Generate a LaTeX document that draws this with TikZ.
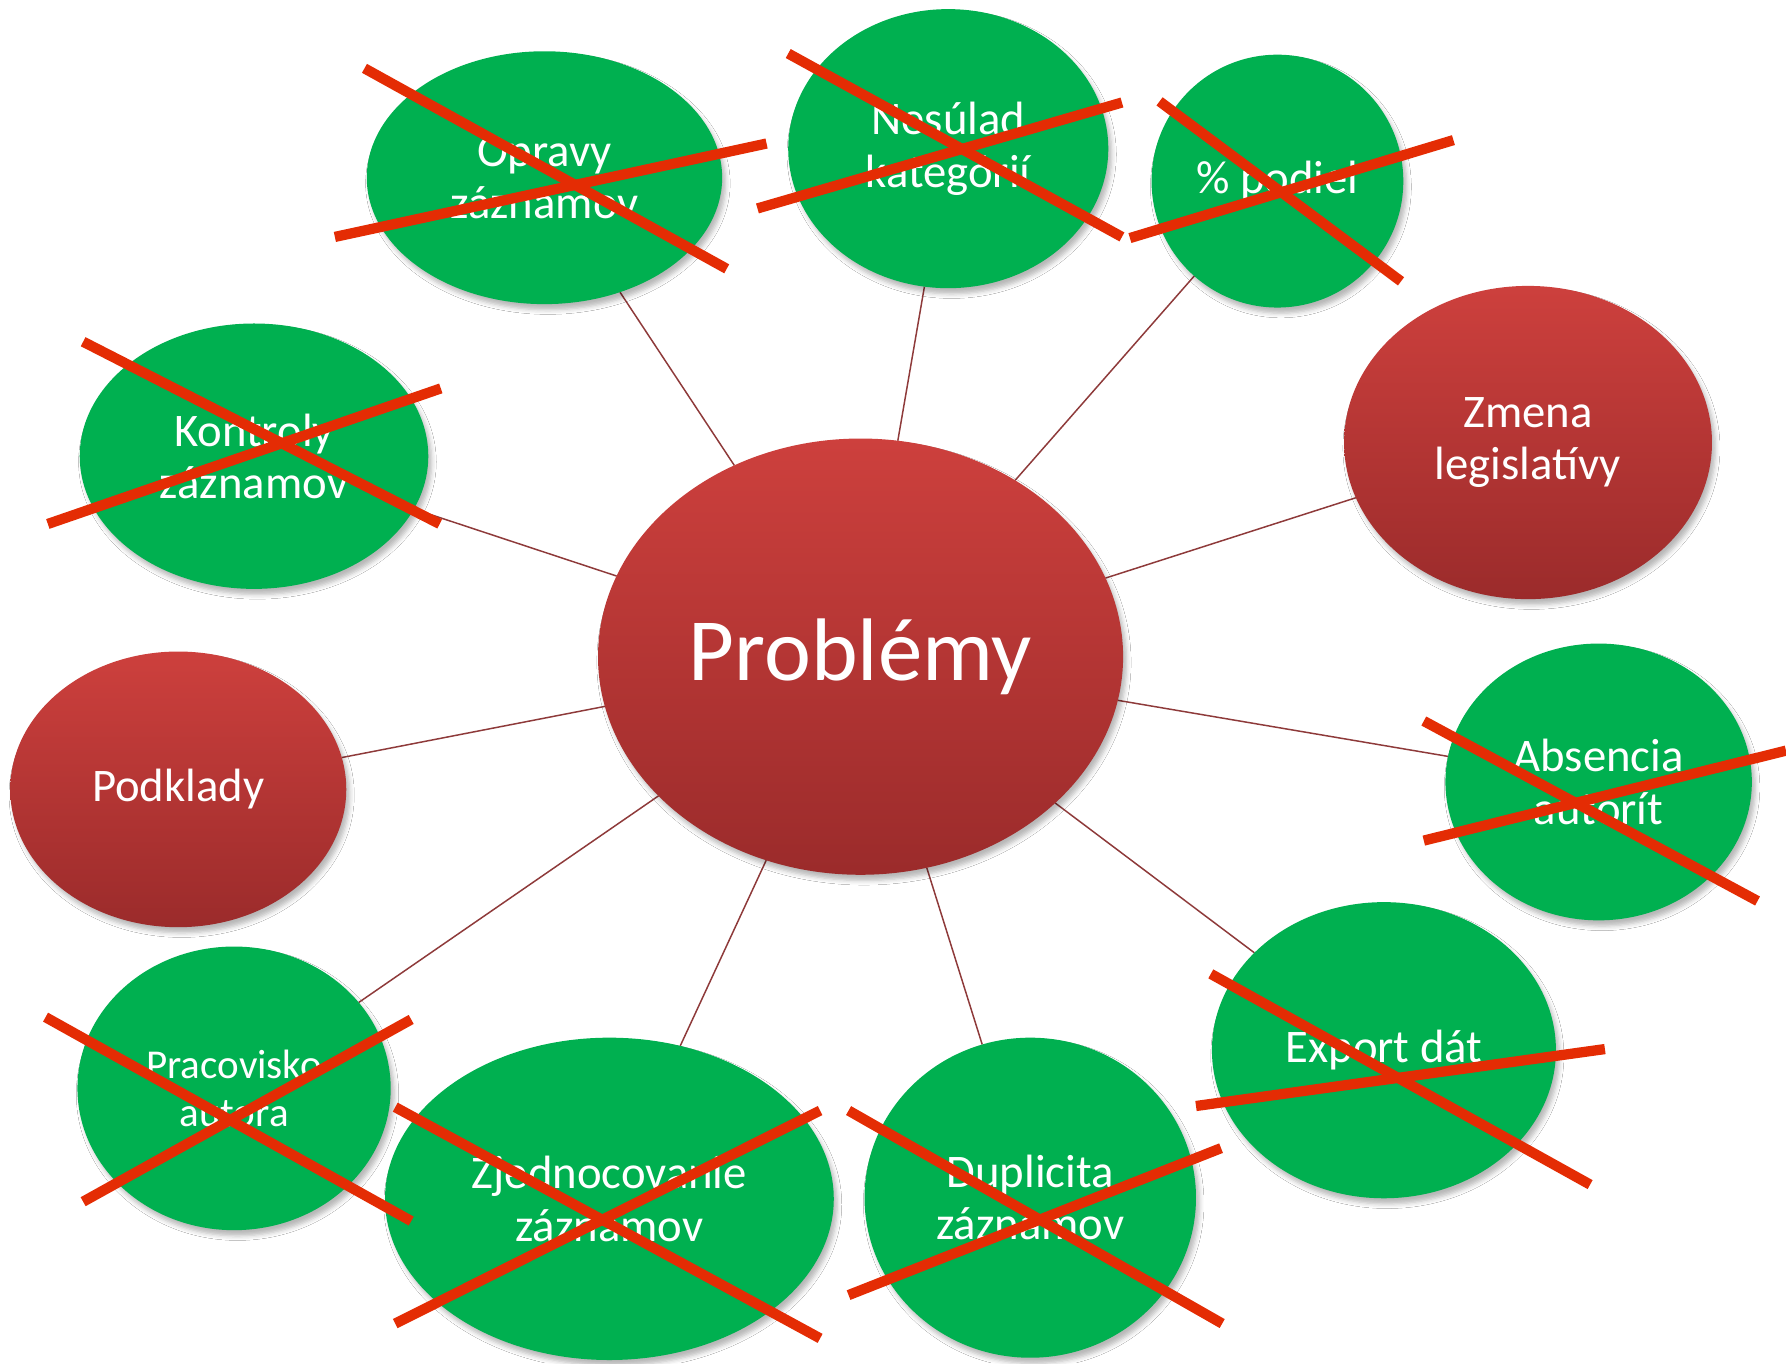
\documentclass[tikz,border=0pt]{standalone}
\usepackage{fontspec}
\setmainfont{Carlito}
\usetikzlibrary{shapes.geometric,shadows.blur}
\pgfdeclarelayer{background}
\pgfsetlayers{background,main}
\definecolor{bubgreen}{HTML}{00B050}
\definecolor{redtop}{HTML}{CD403D}
\definecolor{redbot}{HTML}{9B2B2B}
\definecolor{linkcol}{HTML}{8E3A3A}
\definecolor{crosscol}{RGB}{228,44,4}
\tikzset{
  bubble/.style={ellipse, inner sep=0pt, outer sep=0pt, text=white, align=center,
    font=\fontsize{41}{46}\selectfont,
    blur shadow={shadow xshift=3pt, shadow yshift=-5pt, shadow blur radius=4pt, shadow opacity=28}},
  greenbub/.style={bubble, fill=bubgreen},
  redbub/.style={bubble, top color=redtop, bottom color=redbot, draw=none},
  link/.style={draw=linkcol, line width=1.3pt},
  crossline/.style={draw=crosscol, line width=9pt}
}
\begin{document}
\begin{tikzpicture}[x=1pt,y=-1pt]
\useasboundingbox (0,0) rectangle (1568,1197);
% centre
\node[redbub, minimum width=461, minimum height=383, font=\fontsize{78}{86}\selectfont] (c) at (755.5,576.5) {Problémy};
% satellites
\node[greenbub, minimum width=312, minimum height=222] (opr) at (478,156) {Opravy\\záznamov};
\node[greenbub, minimum width=281, minimum height=245] (nes) at (832.5,130.5) {Nesúlad\\kategórií};
\node[greenbub, minimum width=221, minimum height=222] (pod) at (1121.5,159) {\% podiel};
\node[redbub, minimum width=323, minimum height=275] (zme) at (1341.5,388.5) {Zmena\\legislatívy};
\node[greenbub, minimum width=306, minimum height=233] (kon) at (223,400.5) {Kontroly\\záznamov};
\node[redbub, minimum width=295, minimum height=242] (pdk) at (156.5,693) {Podklady};
\node[greenbub, minimum width=269, minimum height=243] (abs) at (1403.5,686.5) {Absencia\\autorít};
\node[greenbub, minimum width=302, minimum height=260] (exp) at (1215,922) {Export dát};
\node[greenbub, minimum width=291, minimum height=281] (dup) at (904.5,1051.5) {Duplicita\\záznamov};
\node[greenbub, minimum width=394, minimum height=283] (zje) at (535,1052.5) {Zjednocovanie\\záznamov};
\node[greenbub, minimum width=275, minimum height=249, font=\fontsize{36}{42}\selectfont] (pra) at (205.5,955.5) {Pracovisko\\autora};
% connectors and background
\begin{pgfonlayer}{background}
\fill[white] (0,0) rectangle (1568,1197);
\foreach \t in {opr,nes,pod,zme,kon,pdk,abs,exp,dup,zje,pra}
  \draw[link] (c) -- (\t);
\end{pgfonlayer}
% crosses
\draw[crossline] (320,60) -- (638,236);
\draw[crossline] (294,208) -- (673,126);
\draw[crossline] (692,47) -- (985,208);
\draw[crossline] (665,183) -- (985,90);
\draw[crossline] (1018,89) -- (1230,247);
\draw[crossline] (992,209) -- (1276,123);
\draw[crossline] (73,300) -- (386,460);
\draw[crossline] (42,460) -- (387,341);
\draw[crossline] (1250,633) -- (1543,791);
\draw[crossline] (1250,738) -- (1568,659);
\draw[crossline] (1063,855) -- (1396,1040);
\draw[crossline] (1050,971) -- (1409,921);
\draw[crossline] (745,975) -- (1073,1162);
\draw[crossline] (745,1137) -- (1072,1008);
\draw[crossline] (347,972) -- (720,1175);
\draw[crossline] (347,1162) -- (720,975);
\draw[crossline] (40,893) -- (361,1072);
\draw[crossline] (73,1055) -- (361,895);
\end{tikzpicture}
\end{document}
